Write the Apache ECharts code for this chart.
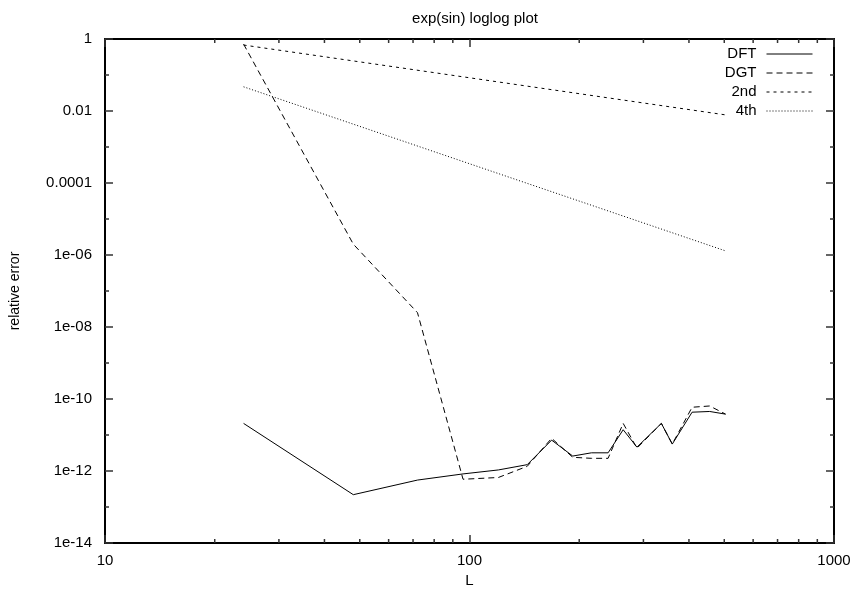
<!DOCTYPE html>
<html>
<head>
<meta charset="utf-8">
<title>exp(sin) loglog plot</title>
<script src="https://cdn.jsdelivr.net/npm/echarts@6/dist/echarts.min.js"></script>
<style>
  html, body { margin: 0; padding: 0; background: #fff; }
  #chart { width: 854px; height: 598px; }
</style>
</head>
<body>
<div id="chart"></div>
<script>
// Grid sizes L and relative errors for each method
const dftL = [24, 48, 72, 96, 120, 144, 168, 192, 216, 240, 264, 288, 336, 360, 408, 456, 504];
const dftErr = [2.1e-11, 2.2e-13, 5.6e-13, 8.3e-13, 1.07e-12, 1.5e-12, 7.2e-12, 2.6e-12, 3.2e-12, 3.2e-12,
                1.4e-11, 4.6e-12, 2.1e-11, 5.6e-12, 4.3e-11, 4.5e-11, 3.8e-11];

const dgtL = [24, 48, 72, 96, 120, 144, 168, 192, 216, 240, 264, 288, 336, 360, 408, 456, 504];
const dgtErr = [0.72, 2e-6, 2.5e-8, 5.9e-13, 6.6e-13, 1.35e-12, 8.1e-12, 2.4e-12, 2.25e-12, 2.25e-12,
                2.1e-11, 4.3e-12, 2.1e-11, 5.6e-12, 5.9e-11, 6.4e-11, 3.8e-11];

// Reference slopes
const secondL = [24, 504];
const secondErr = [0.68, 0.0078];
const fourthL = [24, 504];
const fourthErr = [0.047, 1.3e-6];

// Axis ticks
const xTickLabels = ['10', '100', '1000'];
const yTickLabels = ['1e-14', '1e-12', '1e-10', '1e-08', '1e-06', '0.0001', '0.01', '1'];
const xMinorTicks = [20, 30, 40, 50, 60, 70, 80, 90, 200, 300, 400, 500, 600, 700, 800, 900];
const yMinorTicks = [1e-13, 1e-11, 1e-9, 1e-7, 1e-5, 1e-3, 1e-1];

const X_MIN = 10, X_MAX = 1000, Y_MIN = 1e-14, Y_MAX = 1;
const FONT = '"Liberation Sans", Arial, sans-serif';
const FS = 15;
const INK = '#000';

const pairs = (xs, ys) => xs.map((x, i) => [x, ys[i]]);

function xLabel(v) {
  const e = Math.round(Math.log10(v));
  return xTickLabels[e - 1] || '';
}
function yLabel(v) {
  const e = Math.round(Math.log10(v));
  return yTickLabels[(e + 14) / 2] || '';
}

const tickStyle = { color: '#333', width: 1.5 };

const chart = echarts.init(document.getElementById('chart'), null, { renderer: 'canvas' });

const lineSeries = (name, data, type) => ({
  name: name,
  type: 'line',
  data: data,
  showSymbol: false,
  symbol: 'none',
  silent: true,
  lineStyle: { color: INK, width: 1, type: type },
  itemStyle: { color: INK },
  z: 3
});

// short minor tick marks on all four sides, placed through the axis scales
const minorTickSeries = (data, vertical) => ({
  type: 'custom',
  silent: true,
  data: data,
  encode: { x: 0, y: 1 },
  z: 4,
  renderItem: function (params, api) {
    const len = 4;
    const st = { stroke: tickStyle.color, lineWidth: tickStyle.width };
    if (vertical) {
      const p1 = api.coord([api.value(0), Y_MIN]);
      const p2 = api.coord([api.value(0), Y_MAX]);
      return {
        type: 'group',
        children: [
          { type: 'line', shape: { x1: p1[0], y1: p1[1], x2: p1[0], y2: p1[1] - len }, style: st },
          { type: 'line', shape: { x1: p2[0], y1: p2[1], x2: p2[0], y2: p2[1] + len }, style: st }
        ]
      };
    }
    const q1 = api.coord([X_MIN, api.value(1)]);
    const q2 = api.coord([X_MAX, api.value(1)]);
    return {
      type: 'group',
      children: [
        { type: 'line', shape: { x1: q1[0], y1: q1[1], x2: q1[0] + len, y2: q1[1] }, style: st },
        { type: 'line', shape: { x1: q2[0], y1: q2[1], x2: q2[0] - len, y2: q2[1] }, style: st }
      ]
    };
  }
});

const baseX = {
  type: 'log', logBase: 10, min: X_MIN, max: X_MAX, interval: 1,
  axisLine: { show: true, onZero: false, lineStyle: { color: INK, width: 2 } },
  axisTick: { show: true, inside: true, length: 8, lineStyle: tickStyle },
  splitLine: { show: false },
  minorTick: { show: false }
};
const baseY = {
  type: 'log', logBase: 10, min: Y_MIN, max: Y_MAX, interval: 2,
  axisLine: { show: true, onZero: false, lineStyle: { color: INK, width: 2 } },
  axisTick: { show: true, inside: true, length: 8, lineStyle: tickStyle },
  splitLine: { show: false },
  minorTick: { show: false }
};

chart.setOption({
  animation: false,
  backgroundColor: '#fff',
  textStyle: { fontFamily: FONT },
  title: {
    text: 'exp(sin) loglog plot',
    left: 470, top: 6, textAlign: 'center',
    textStyle: { fontFamily: FONT, fontSize: FS, fontWeight: 'normal', color: INK }
  },
  legend: {
    data: ['DFT', 'DGT', '2nd', '4th'],
    orient: 'vertical',
    align: 'right',
    right: 41, top: 45,
    itemWidth: 46, itemHeight: 2, itemGap: 1,
    padding: 0,
    selectedMode: false,
    itemStyle: { color: 'rgba(0,0,0,0)', borderWidth: 0, opacity: 0 },
    lineStyle: { width: 1, color: INK },
    textStyle: { fontFamily: FONT, fontSize: FS, color: INK, padding: [0, 5, 0, 0], lineHeight: 18 }
  },
  grid: { left: 105, right: 20, top: 39, bottom: 55, containLabel: false },
  xAxis: [
    Object.assign({}, baseX, {
      position: 'bottom',
      name: 'L', nameLocation: 'middle', nameGap: 30,
      nameTextStyle: { fontFamily: FONT, fontSize: FS, color: INK },
      axisLabel: { margin: 10, fontFamily: FONT, fontSize: FS, color: INK, formatter: xLabel }
    }),
    Object.assign({}, baseX, { position: 'top', axisLabel: { show: false } })
  ],
  yAxis: [
    Object.assign({}, baseY, {
      position: 'left',
      name: 'relative error', nameLocation: 'middle', nameGap: 83, nameRotate: 90,
      nameTextStyle: { fontFamily: FONT, fontSize: 14, color: INK },
      axisLabel: { margin: 13, fontFamily: FONT, fontSize: FS, color: INK, formatter: yLabel }
    }),
    Object.assign({}, baseY, { position: 'right', axisLabel: { show: false } })
  ],
  series: [
    lineSeries('DFT', pairs(dftL, dftErr), 'solid'),
    lineSeries('DGT', pairs(dgtL, dgtErr), [6, 4]),
    lineSeries('2nd', pairs(secondL, secondErr), [3, 4]),
    lineSeries('4th', pairs(fourthL, fourthErr), [1, 2]),
    minorTickSeries(xMinorTicks.map(v => [v, Y_MIN]), true),
    minorTickSeries(yMinorTicks.map(v => [X_MIN, v]), false)
  ]
});
</script>
</body>
</html>
